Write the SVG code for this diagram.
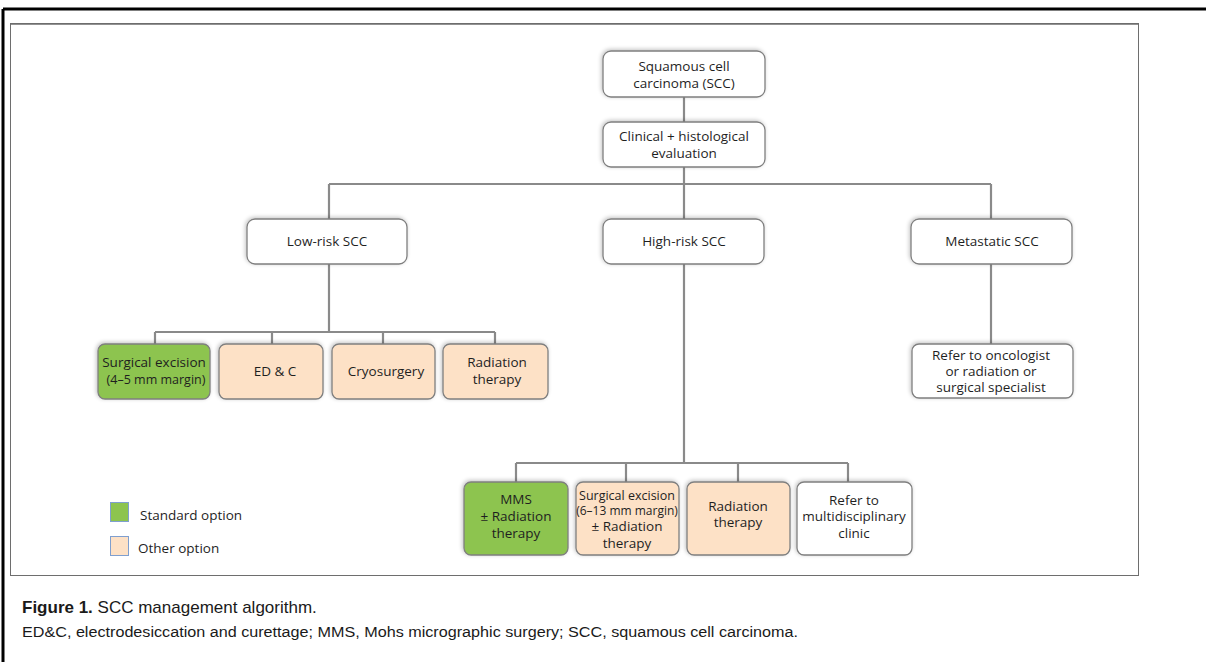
<svg xmlns="http://www.w3.org/2000/svg" width="1206" height="662" viewBox="0 0 1206 662">
<defs>
<filter id="sh" x="-10%" y="-20%" width="120%" height="140%">
<feGaussianBlur in="SourceAlpha" stdDeviation="2"/>
<feOffset dx="-1" dy="-1"/>
<feComponentTransfer><feFuncA type="linear" slope="0.25"/></feComponentTransfer>
<feMerge><feMergeNode/><feMergeNode in="SourceGraphic"/></feMerge>
</filter>
</defs>
<style>
.n{stroke:#7f7f7f;stroke-width:1.3;filter:url(#sh)}
.w{fill:#ffffff}
.g{fill:#8dc44f}
.p{fill:#fde1c6}
.t{font-family:"Open Sans","Liberation Sans",sans-serif;font-size:13.5px;fill:#1f1f1f;text-anchor:middle}
.c{fill:none;stroke:#8a8a8a;stroke-width:2.2}
.lg{font-family:"Open Sans","Liberation Sans",sans-serif;font-size:13.5px;fill:#1f1f1f}
.cap{font-family:"Liberation Sans",sans-serif;fill:#1a1a1a}
</style>
<rect width="1206" height="662" fill="#ffffff"/>
<path d="M3 9 H1206 M3 9 V662" stroke="#000" stroke-width="3" fill="none"/>
<rect x="10.5" y="23.5" width="1128" height="552" fill="#ffffff" stroke="#6e6e6e" stroke-width="1"/>
<line x1="10" y1="24" x2="1139" y2="24" stroke="#6e6e6e" stroke-width="1.5"/>
<g id="connectors">
<path class="c" d="M684 97 V122 M684 167 V219 M329 184 H991 M329 184 V219 M991 184 V219"/>
<path class="c" d="M329 264 V332 M155 332 H495 M155 332 V345 M272 332 V345 M383 332 V345 M495 332 V345"/>
<path class="c" d="M991 264 V344"/>
<path class="c" d="M684 264 V463 M516 463 H848 M516 463 V482 M626 463 V482 M738 463 V482 M848 463 V482"/>
</g>
<g id="scc"><rect class="n w" x="603" y="51" width="162" height="46" rx="8"/><text class="t" x="684" y="71">Squamous cell</text><text class="t" x="684" y="88">carcinoma (SCC)</text></g>
<g id="eval"><rect class="n w" x="603" y="122" width="162" height="45" rx="8"/><text class="t" x="684" y="141">Clinical + histological</text><text class="t" x="684" y="158">evaluation</text></g>
<g id="lowrisk"><rect class="n w" x="247" y="219" width="160" height="45" rx="8"/><text class="t" x="327" y="246">Low-risk SCC</text></g>
<g id="highrisk"><rect class="n w" x="603" y="219" width="161" height="45" rx="8"/><text class="t" x="684" y="246">High-risk SCC</text></g>
<g id="metastatic"><rect class="n w" x="911" y="219" width="161" height="45" rx="8"/><text class="t" x="992" y="246">Metastatic SCC</text></g>
<g id="lr-surg"><rect class="n g" x="98" y="344" width="112" height="55" rx="7"/><text class="t" x="154" y="367">Surgical excision</text><text class="t" x="156" y="384" style="font-size:12.5px">(4–5 mm margin)</text></g>
<g id="lr-edc"><rect class="n p" x="219" y="344" width="104" height="55" rx="7"/><text class="t" x="275" y="376">ED &amp; C</text></g>
<g id="lr-cryo"><rect class="n p" x="332" y="344" width="103" height="55" rx="7"/><text class="t" x="386" y="376">Cryosurgery</text></g>
<g id="lr-rad"><rect class="n p" x="443" y="344" width="105" height="55" rx="7"/><text class="t" x="497" y="367">Radiation</text><text class="t" x="497" y="384">therapy</text></g>
<g id="refer-onc"><rect class="n w" x="912" y="344" width="161" height="54" rx="7"/><text class="t" x="991" y="360">Refer to oncologist</text><text class="t" x="991" y="376">or radiation or</text><text class="t" x="991" y="392">surgical specialist</text></g>
<g id="hr-mms"><rect class="n g" x="464" y="482" width="104" height="73" rx="7"/><text class="t" x="516" y="504">MMS</text><text class="t" x="516" y="521">± Radiation</text><text class="t" x="516" y="538">therapy</text></g>
<g id="hr-surg"><rect class="n p" x="576" y="482" width="103" height="73" rx="7"/><text class="t" x="627" y="500" style="font-size:12.5px">Surgical excision</text><text class="t" x="627" y="515" style="font-size:12px">(6–13 mm margin)</text><text class="t" x="627" y="531">± Radiation</text><text class="t" x="627" y="548">therapy</text></g>
<g id="hr-rad"><rect class="n p" x="687" y="482" width="103" height="73" rx="7"/><text class="t" x="738" y="511">Radiation</text><text class="t" x="738" y="527">therapy</text></g>
<g id="hr-refer"><rect class="n w" x="797" y="482" width="115" height="73" rx="7"/><text class="t" x="854" y="505">Refer to</text><text class="t" x="854" y="521">multidisciplinary</text><text class="t" x="854" y="538">clinic</text></g>
<g id="legend">
<rect x="110.5" y="502.5" width="18" height="19" fill="#8dc44f" stroke="#7f9fcf" stroke-width="1"/>
<text class="lg" x="140" y="520">Standard option</text>
<rect x="110.5" y="536.5" width="18" height="19" fill="#fde1c6" stroke="#7f9fcf" stroke-width="1"/>
<text class="lg" x="138" y="553">Other option</text>
</g>
<g id="caption">
<text class="cap" x="22" y="613" style="font-size:17px"><tspan font-weight="bold">Figure 1.</tspan> SCC management algorithm.</text>
<text class="cap" x="22" y="637" style="font-size:14px" textLength="776" lengthAdjust="spacingAndGlyphs">ED&amp;C, electrodesiccation and curettage; MMS, Mohs micrographic surgery; SCC, squamous cell carcinoma.</text>
</g>
</svg>
